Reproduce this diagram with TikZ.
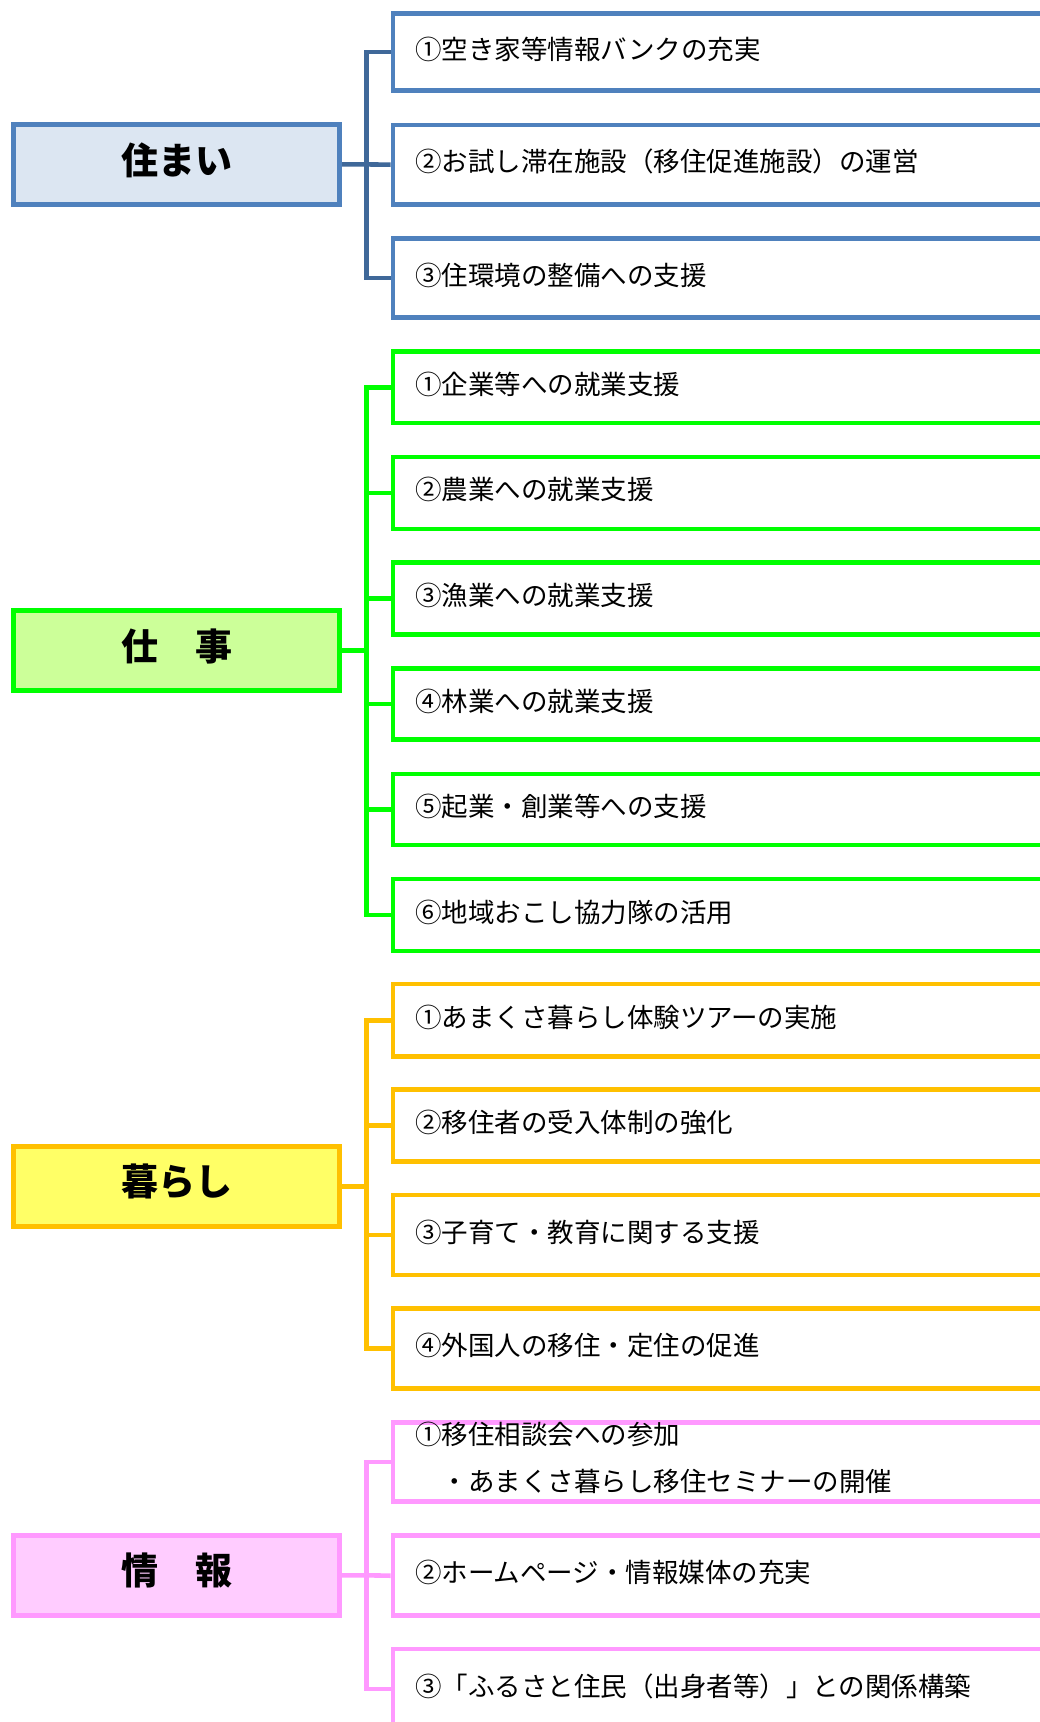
\documentclass[tikz,border=0pt]{standalone}
\usepackage{fontspec}
\setmainfont{Noto Sans CJK JP}
\definecolor{bluebd}{HTML}{4F81BD}
\definecolor{bluefill}{HTML}{DCE6F2}
\definecolor{blueconn}{HTML}{3F6899}
\definecolor{greenbd}{HTML}{00FF00}
\definecolor{greenfill}{HTML}{CCFF99}
\definecolor{yellowbd}{HTML}{FFC000}
\definecolor{yellowfill}{HTML}{FFFF66}
\definecolor{pinkbd}{HTML}{FF99FF}
\definecolor{pinkfill}{HTML}{FFCCFF}
\begin{document}
\begin{tikzpicture}[x=1pt,y=-1pt,
  mainbox/.style={draw=#1, line width=4.6pt, minimum width=326pt, minimum height=80pt,
    inner sep=0pt, anchor=center, text height=26pt, text depth=6.8pt,
    font=\fontsize{37}{40}\selectfont\bfseries},
  itembox/.style={draw, fill=white, line width=4.6pt, anchor=west, minimum height=#1,
    text width=640pt, inner xsep=22pt, inner ysep=0pt, align=left,
    text height=20pt, text depth=6pt,
    font=\fontsize{26.5}{47}\selectfont},
  conn/.style={line width=4.6pt, line join=miter}]
\useasboundingbox (0,0) rectangle (1040,1722);
\clip (0,0) rectangle (1040,1722);
\fill[white] (0,0) rectangle (1040,1722);

% ---------- 住まい ----------
\node[mainbox=bluebd, fill=bluefill] (m1) at (176.7,164.4) {住まい};
\node[itembox=77.5pt, draw=bluebd] (b1) at (390.7,52) {①空き家等情報バンクの充実};
\node[itembox=79.3pt, draw=bluebd] (b2) at (390.7,164.7) {②お試し滞在施設（移住促進施設）の運営};
\node[itembox=79.4pt, draw=bluebd] (b3) at (390.7,278) {③住環境の整備への支援};
\coordinate (v1) at (366.7,164.4);
\draw[conn, blueconn] (b1.west) -| (v1) |- (b3.west);
\draw[conn, blueconn] (m1.east) -- (v1) -- (b2.west);

% ---------- 仕事 ----------
\node[mainbox=greenbd, fill=greenfill] (m2) at (176.7,650.7) {仕　事};
\node[itembox=71.5pt, draw=greenbd] (g1) at (390.7,387.3) {①企業等への就業支援};
\node[itembox=72pt, draw=greenbd] (g2) at (390.7,492.8) {②農業への就業支援};
\node[itembox=72pt, draw=greenbd] (g3) at (390.7,598.3) {③漁業への就業支援};
\node[itembox=71.5pt, draw=greenbd] (g4) at (390.7,704) {④林業への就業支援};
\node[itembox=71pt, draw=greenbd] (g5) at (390.7,809.5) {⑤起業・創業等への支援};
\node[itembox=72pt, draw=greenbd] (g6) at (390.7,915) {⑥地域おこし協力隊の活用};
\coordinate (v2) at (366.7,650.7);
\draw[conn, greenbd] (g1.west) -| (v2) |- (g6.west);
\draw[conn, greenbd] (m2.east) -- (v2);
\foreach \n in {g2,g3,g4,g5} \draw[conn, greenbd] (v2 |- \n.west) -- (\n.west);

% ---------- 暮らし ----------
\node[mainbox=yellowbd, fill=yellowfill] (m3) at (176.7,1186.3) {暮らし};
\node[itembox=72.3pt, draw=yellowbd] (y1) at (390.7,1020.3) {①あまくさ暮らし体験ツアーの実施};
\node[itembox=72pt, draw=yellowbd] (y2) at (390.7,1125.7) {②移住者の受入体制の強化};
\node[itembox=80pt, draw=yellowbd] (y3) at (390.7,1235) {③子育て・教育に関する支援};
\node[itembox=80pt, draw=yellowbd] (y4) at (390.7,1348.3) {④外国人の移住・定住の促進};
\coordinate (v3) at (366.7,1186.3);
\draw[conn, yellowbd] (y1.west) -| (v3) |- (y4.west);
\draw[conn, yellowbd] (m3.east) -- (v3);
\foreach \n in {y2,y3} \draw[conn, yellowbd] (v3 |- \n.west) -- (\n.west);

% ---------- 情報 ----------
\node[mainbox=pinkbd, fill=pinkfill] (m4) at (176.7,1575.3) {情　報};
\node[itembox=79.4pt, draw=pinkbd, text height=20pt, text depth=54.2pt] (p1) at (390.7,1462) {①移住相談会への参加\\　・あまくさ暮らし移住セミナーの開催};
\node[itembox=80pt, draw=pinkbd] (p2) at (390.7,1575.7) {②ホームページ・情報媒体の充実};
\node[itembox=80pt, draw=pinkbd] (p3) at (390.7,1689) {③「ふるさと住民（出身者等）」との関係構築};
\coordinate (v4) at (366.7,1575.3);
\draw[conn, pinkbd] (p1.west) -| (v4) |- (p3.west);
\draw[conn, pinkbd] (m4.east) -- (v4) -- (p2.west);
\end{tikzpicture}
\end{document}
